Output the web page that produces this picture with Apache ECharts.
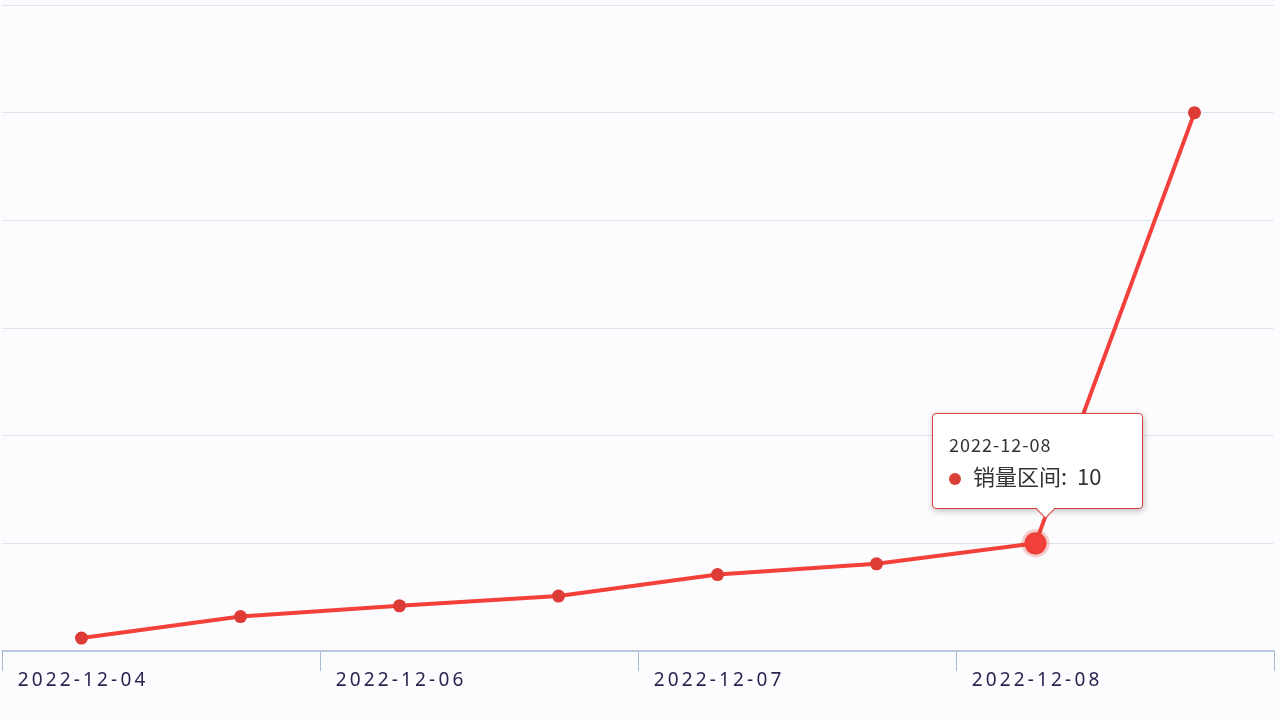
<!DOCTYPE html>
<html>
<head>
<meta charset="utf-8">
<script src="https://cdn.jsdelivr.net/npm/echarts@6/dist/echarts.min.js"></script>
<style>
  html, body { margin: 0; padding: 0; background: #fcfcfe; }
  #main { width: 1280px; height: 720px; }
</style>
</head>
<body>
<div id="main"></div>
<script>
var dates = ['2022-12-04', '2022-12-05', '2022-12-06', '2022-12-06', '2022-12-07', '2022-12-07', '2022-12-08', '2022-12-19'];
var sales = [1.2, 3.2, 4.2, 5.1, 7.1, 8.1, 10, 50];
var seriesName = '销量区间';

var chart = echarts.init(document.getElementById('main'));

var option = {
  backgroundColor: '#fcfcfe',
  grid: { left: 2, right: 6, top: 5, bottom: 69 },
  tooltip: {
    trigger: 'item',
    alwaysShowContent: true,
    backgroundColor: '#fff',
    borderColor: '#d9403a',
    borderWidth: 1.5,
    padding: [16, 18, 16, 16],
    extraCssText: 'min-width:175px;overflow:visible;box-shadow:1px 2px 6px rgba(0,0,0,0.25);',
    textStyle: { fontSize: 19, color: '#333', fontFamily: 'Noto Sans CJK SC' },
    position: function (pt) {
      return [pt[0] - 104, pt[1] - 130];
    },
    formatter: function (p) {
      return '<div style="position:relative">' +
        '<div style="font-size:18px;color:#333;line-height:28px;letter-spacing:1px">' + p.name + '</div>' +
        '<div style="font-size:22px;line-height:34px">' +
        '<span style="display:inline-block;width:12px;height:12px;border-radius:6px;background:#d9403a;margin-right:12px"></span>' +
        p.seriesName + ':&nbsp;&nbsp;' + p.value + '</div>' +
        '<div style="position:absolute;left:90px;bottom:-24px;width:12px;height:12px;background:#fff;' +
        'border-right:1.5px solid #d9403a;border-bottom:1.5px solid #d9403a;transform:rotate(45deg)"></div>' +
        '</div>';
    }
  },
  xAxis: {
    type: 'category',
    data: dates,
    boundaryGap: true,
    axisLine: { lineStyle: { color: '#a9bad8', width: 1.5 } },
    axisTick: { show: true, length: 20, lineStyle: { color: '#a9bad8' } },
    axisLabel: {
      fontSize: 19, color: '#2c2450', margin: 20, fontFamily: 'Noto Sans',
      formatter: function (v) { return v.split('').join('\u2009'); }
    }
  },
  yAxis: {
    type: 'value',
    min: 0,
    max: 60,
    interval: 10,
    axisLabel: { show: false },
    axisLine: { show: false },
    axisTick: { show: false },
    splitLine: { lineStyle: { color: '#dfe5f0' } }
  },
  series: [{
    name: seriesName,
    type: 'line',
    data: sales,
    symbol: 'circle',
    symbolSize: 13,
    itemStyle: { color: '#dd3b35' },
    lineStyle: { color: '#dd3b35', width: 4 },
    emphasis: {
      scale: 1.7,
      itemStyle: { borderColor: 'rgba(221,59,53,0.25)', borderWidth: 6 }
    }
  }]
};

chart.setOption(option);
setTimeout(function () {
  chart.dispatchAction({ type: 'showTip', seriesIndex: 0, dataIndex: 6 });
  chart.dispatchAction({ type: 'highlight', seriesIndex: 0, dataIndex: 6 });
}, 100);
</script>
</body>
</html>
